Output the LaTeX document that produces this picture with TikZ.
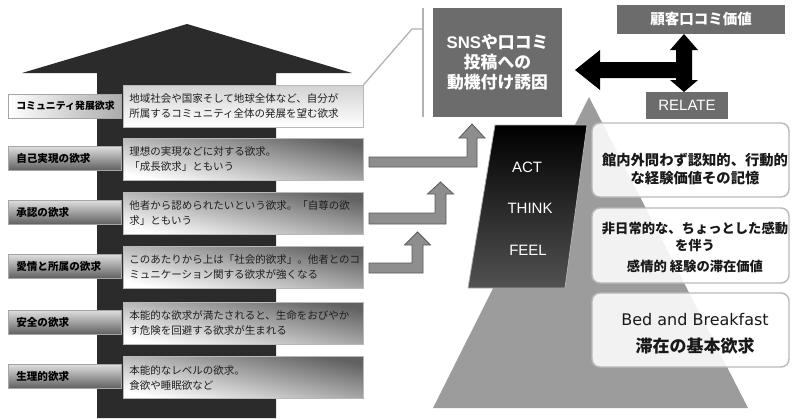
\documentclass[tikz,border=0pt]{standalone}
\usepackage{fontspec}
\setmainfont{Noto Sans CJK JP}
\newfontfamily\lat{Liberation Sans}
\newfontfamily\dvs{DejaVu Sans}
\definecolor{darkarrow}{HTML}{2B2B2B}
\definecolor{boxgray}{HTML}{6C6C6C}
\definecolor{pyrgray}{HTML}{9C9C9C}
\definecolor{elbowfill}{HTML}{8E8E8E}
\definecolor{elbowdraw}{HTML}{5A5A5A}
\tikzset{
  labelbox/.style={draw=gray!70, line width=0.6pt, anchor=west, minimum width=113pt, minimum height=24pt,
    text width=97pt, inner xsep=8pt, align=left, top color=white!88!black, bottom color=black!62,
    font=\bfseries\fontsize{10.6}{12}\selectfont, text=black},
  descbox/.style={draw=gray!55, line width=0.6pt, anchor=west, minimum width=240pt, minimum height=42pt,
    text width=228pt, inner xsep=6pt, align=left, top color=black!62, bottom color=white, shading angle=-12,
    font=\fontsize{10.5}{15}\selectfont, text=black!88},
  darkbox/.style={fill=boxgray, text=white, font=\bfseries, inner sep=0pt, align=center},
  infobox/.style={draw=gray!55, line width=1.4pt, rounded corners=8pt, fill=white, fill opacity=0.88},
  infotext/.style={text=black!90, align=center, font=\bfseries},
  elbow/.style={fill=elbowfill, draw=elbowdraw, line width=0.8pt, line join=miter},
  link/.style={draw=gray!60, line width=1.3pt}
}
\begin{document}
\begin{tikzpicture}[x=1pt,y=-1pt]
\useasboundingbox (0,0) rectangle (792,418);
\fill[white] (0,0) rectangle (792,418);

% big dark arrow
\fill[darkarrow] (97,418) -- (97,73) -- (22,73) -- (187,24) -- (352,73) -- (276,73) -- (276,418) -- cycle;

% labels and descriptions
\node[labelbox, left color=white, right color=gray!65, font=\bfseries\fontsize{9.9}{12}\selectfont] (l1) at (8,106) {コミュニティ発展欲求};
\node[descbox, top color=gray!35, bottom color=white] (d1) at (123,106) {地域社会や国家そして地球全体など、自分が\\所属するコミュニティ全体の発展を望む欲求};

\node[labelbox] (l2) at (8,158) {自己実現の欲求};
\node[descbox] (d2) at (123,159.5) {理想の実現などに対する欲求。\\「成長欲求」ともいう};

\node[labelbox] (l3) at (8,212) {承認の欲求};
\node[descbox] (d3) at (123,213.5) {他者から認められたいという欲求。「自尊の欲\\求」ともいう};

\node[labelbox] (l4) at (8,266) {愛情と所属の欲求};
\node[descbox] (d4) at (123,267.5) {このあたりから上は「社会的欲求」。他者とのコ\\ミュニケーション関する欲求が強くなる};

\node[labelbox] (l5) at (8,322) {安全の欲求};
\node[descbox] (d5) at (123,323) {本能的な欲求が満たされると、生命をおびやか\\す危険を回避する欲求が生まれる};

\node[labelbox] (l6) at (8,376) {生理的欲求};
\node[descbox] (d6) at (123,377.5) {本能的なレベルの欲求。\\食欲や睡眠欲など};

% bracket link from top description to SNS box
\coordinate (bk) at (423,29);
\coordinate (bt) at (423,8);
\coordinate (bb) at (423,117);
\draw[link] (d1.north east) -- (412,29) -- (bk);
\draw[link] (bt) -- (bb);

% SNS box
\node[darkbox, minimum width=129pt, minimum height=109pt, font=\bfseries\fontsize{16.8}{20}\selectfont] (sns) at (497.5,62.5)
  {{\lat\bfseries SNS}や口コミ\\投稿への\\動機付け誘因};

% top right boxes
\node[darkbox, minimum width=168pt, minimum height=29pt, font=\bfseries\fontsize{14.5}{16}\selectfont] (kokyaku) at (701,19.5) {顧客口コミ価値};
\node[darkbox, minimum width=82pt, minimum height=27pt, font=\lat\fontsize{15}{16}\selectfont] (relate) at (687,105.5) {RELATE};

% black double arrow
\fill[black] (575,70) -- (600,50) -- (600,62) -- (676,62) -- (676,50) -- (670,50) -- (684,34) -- (698,50) -- (692,50)
  -- (692,80) -- (698,80) -- (684,92) -- (670,80) -- (676,80) -- (676,78) -- (600,78) -- (600,90) -- cycle;

% pyramid
\fill[pyrgray] (589,97) -- (433,408) -- (748,408) -- cycle;

% dark parallelogram
\shade[top color=black, bottom color=black!68, draw=gray!60, line width=0.8pt]
  (495,125) -- (587,125) -- (565,288) -- (468,288) -- cycle;
\node[text=white, font=\lat\fontsize{15}{16}\selectfont] (act) at (527,167) {ACT};
\node[text=white, font=\lat\fontsize{15}{16}\selectfont] (think) at (530,208) {THINK};
\node[text=white, font=\lat\fontsize{15}{16}\selectfont] (feel) at (528,250) {FEEL};

% info boxes
\draw[infobox] (592,123) rectangle (789,197);
\draw[infobox] (592,208) rectangle (789,283);
\draw[infobox] (592,293) rectangle (789,367);
\node[infotext, font=\bfseries\fontsize{14.3}{18}\selectfont] (t1) at (695,169) {館内外問わず認知的、行動的\\な経験価値その記憶};
\node[infotext, font=\bfseries\fontsize{13.3}{17}\selectfont] (t2) at (695,247) {非日常的な、ちょっとした感動\\を伴う\\[4pt]感情的 経験の滞在価値};
\node[infotext, font=\fontsize{16}{27}\selectfont] (t3) at (695,334) {{\dvs Bed and Breakfast}\\{\bfseries\fontsize{17}{27}\selectfont 滞在の基本欲求}};

% elbow arrows
\draw[elbow] (369,157) -- (467,157) -- (467,138) -- (459,138) -- (472,124) -- (485,138) -- (477,138) -- (477,167) -- (369,167) -- cycle;
\draw[elbow] (369,213) -- (435,213) -- (435,194) -- (427.5,194) -- (440.5,182) -- (453.5,194) -- (446,194) -- (446,224) -- (369,224) -- cycle;
\draw[elbow] (369,263) -- (412,263) -- (412,245) -- (404.5,245) -- (417.5,232) -- (430.5,245) -- (423,245) -- (423,273) -- (369,273) -- cycle;
\end{tikzpicture}
\end{document}
